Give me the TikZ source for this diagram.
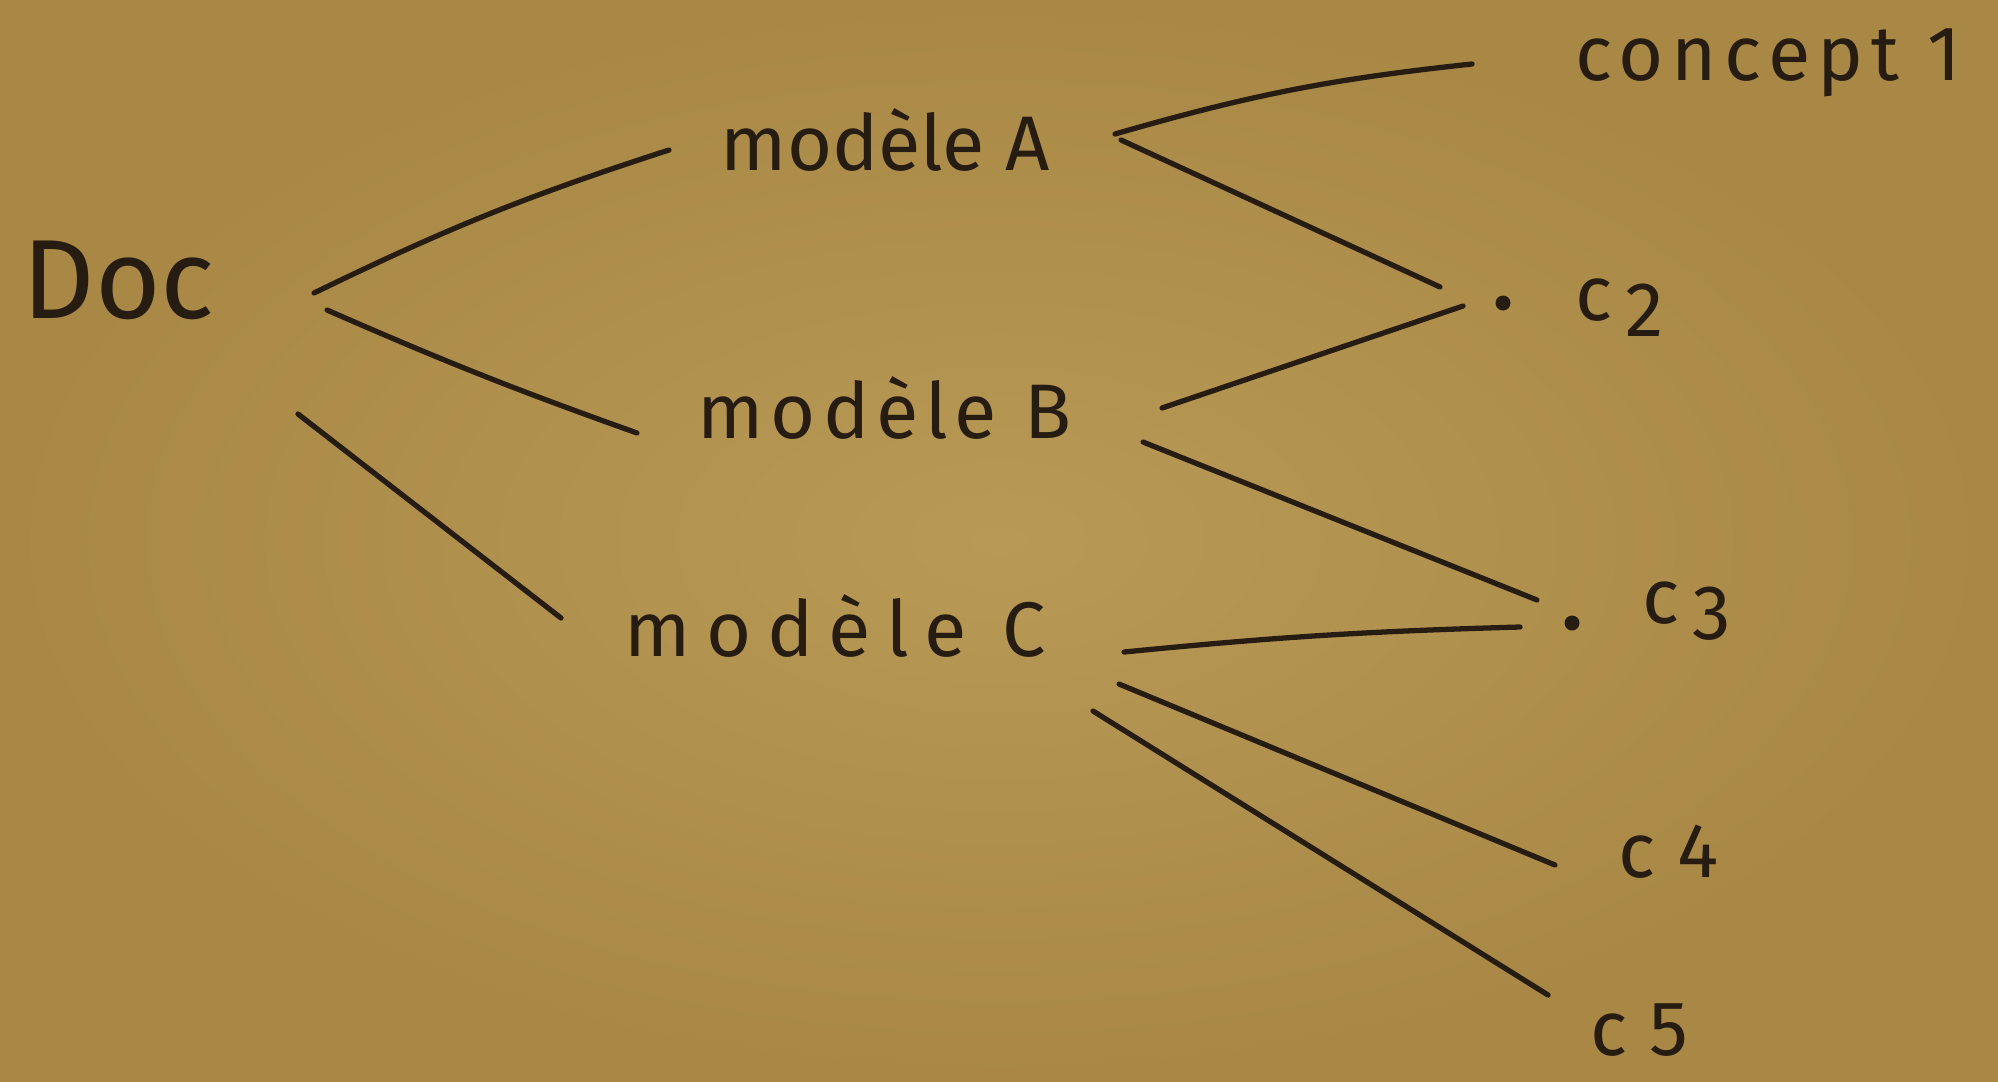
\documentclass[tikz,border=0pt]{standalone}
\usepackage{fontspec}
\setmainfont{Fira Sans}
\usetikzlibrary{calc}
\definecolor{paperlight}{RGB}{184,153,86}
\definecolor{paperdark}{RGB}{168,136,68}
\definecolor{ink}{RGB}{38,28,18}
\begin{document}
\begin{tikzpicture}[x=0.01cm,y=-0.01cm,
  lbl/.style={text=ink, inner sep=0pt, anchor=base west, font=\fontsize{22}{26}\selectfont},
  dotn/.style={circle, fill=ink, inner sep=0pt, minimum size=0.15cm},
  link/.style={draw=ink, line width=1.5pt, line cap=round}]
\shade[inner color=paperlight, outer color=paperdark] (0,0) rectangle (1998,1081);
\useasboundingbox (0,0) rectangle (1998,1081);

\node[lbl, font=\fontsize{32}{36}\selectfont] (doc) at (22,318) {Doc};
\node[lbl] (mA) at (720,170) {modèle A};
\node[lbl, font=\fontsize{22}{26}\selectfont\addfontfeatures{LetterSpace=9}] (mB) at (697,438) {modèle B};
\node[lbl, font=\fontsize{22}{26}\selectfont\addfontfeatures{LetterSpace=20}] (mC) at (624,656) {modèle C};
\node[lbl, font=\fontsize{22}{26}\selectfont\addfontfeatures{LetterSpace=10}] (con) at (1575,80) {concept 1};
\node[lbl] (c2) at (1575,320) {c\,\raisebox{-0.4ex}{2}};
\node[lbl] (c3) at (1642,623) {c\,\raisebox{-0.4ex}{3}};
\node[lbl] (c4) at (1618,877) {c\;4};
\node[lbl] (c5) at (1590,1055) {c\;5};
\node[dotn] (d2) at (1503,303) {};
\node[dotn] (d3) at (1572,623) {};

\draw[link] ($(doc.base west)+(292,-25)$) to[bend left=4] ($(mA.base west)+(-51,-20)$);
\draw[link] ($(doc.base west)+(305,-8)$) to[bend right=2] ($(mB.base west)+(-60,-5)$);
\draw[link] ($(doc.base west)+(276,96)$) -- ($(mC.base west)+(-63,-38)$);
\draw[link] ($(mA.base west)+(395,-36)$) to[bend left=5] ($(con.base west)+(-103,-16)$);
\draw[link] ($(mA.base west)+(401,-30)$) -- ($(d2)+(-63,-16)$);
\draw[link] ($(mB.base west)+(465,-30)$) -- ($(d2)+(-40,3)$);
\draw[link] ($(mB.base west)+(446,4)$) -- ($(d3)+(-35,-23)$);
\draw[link] ($(mC.base west)+(500,-4)$) to[bend left=2] ($(d3)+(-52,4)$);
\draw[link] ($(mC.base west)+(495,28)$) -- ($(c4.base west)+(-63,-12)$);
\draw[link] ($(mC.base west)+(469,55)$) -- ($(c5.base west)+(-42,-60)$);
\end{tikzpicture}
\end{document}
